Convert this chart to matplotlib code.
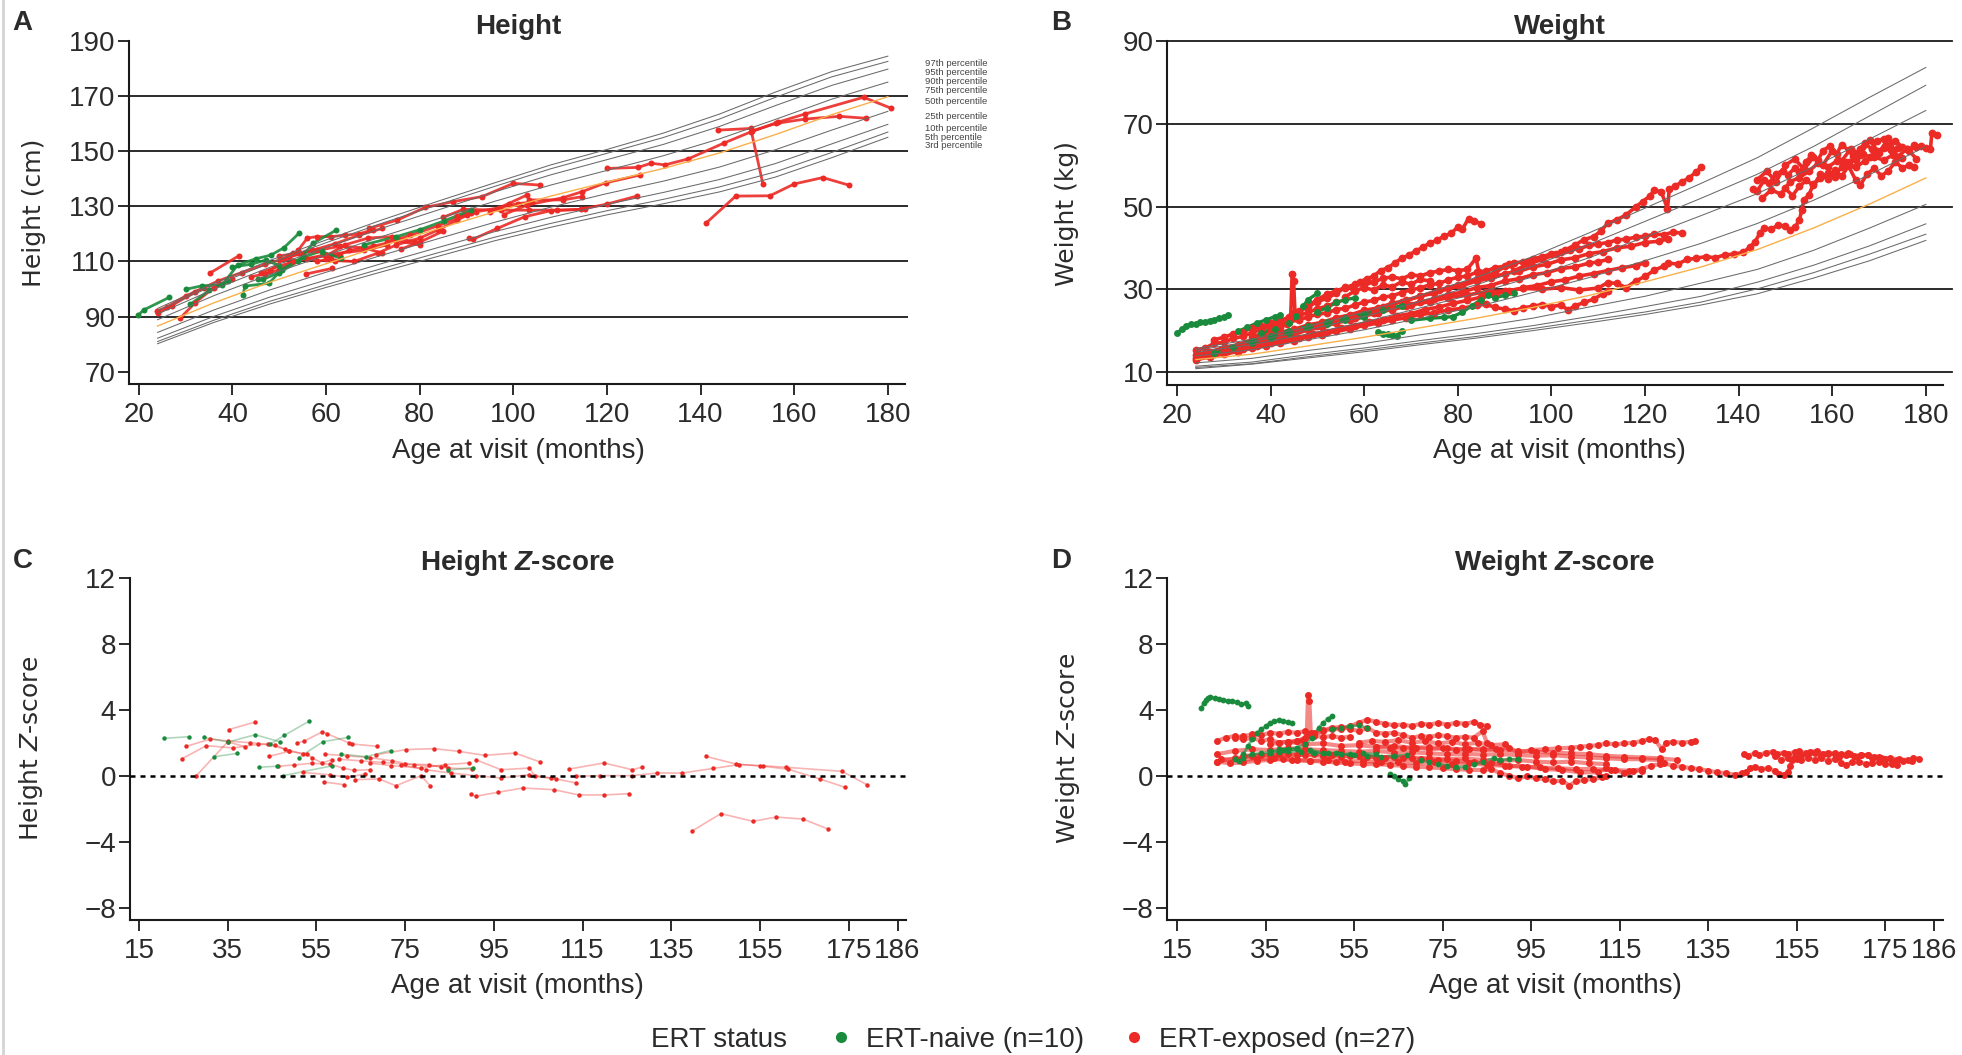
import numpy as np
import matplotlib
matplotlib.use('Agg')
import matplotlib.pyplot as plt
from matplotlib.lines import Line2D
from matplotlib import transforms

plt.rcParams['font.family'] = ['Liberation Sans', 'DejaVu Sans']
plt.rcParams['mathtext.fontset'] = 'custom'
plt.rcParams['mathtext.rm'] = 'Liberation Sans'
plt.rcParams['mathtext.it'] = 'Liberation Sans:italic'
plt.rcParams['mathtext.bf'] = 'Liberation Sans:bold'
HAS_BFIT = 'mathtext.bfit' in plt.rcParams
if HAS_BFIT:
    plt.rcParams['mathtext.bfit'] = 'Liberation Sans:italic:bold'

RED = '#EC2A26'
GREEN = '#1A8B3C'
ORANGE = '#F9B04A'
TXT = '#2b2b2b'

# reference percentile curves (boys), ages in months
pct_ages = [24, 36, 48, 60, 72, 84, 96, 108, 120, 132, 144, 156, 168, 180]
pct_names = ['97th', '95th', '90th', '75th', '50th', '25th', '10th', '5th', '3rd']

height_p97 = [93.0, 102.1, 110.4, 117.8, 125.1, 131.9, 138.5, 145.0, 150.6, 156.5, 163.4, 171.4, 178.8, 184.4]
height_p95 = [92.2, 101.3, 109.4, 116.8, 123.9, 130.6, 137.2, 143.6, 149.2, 154.9, 161.6, 169.5, 176.9, 182.5]
height_p90 = [91.0, 99.9, 107.9, 115.1, 122.1, 128.7, 135.2, 141.4, 146.9, 152.4, 158.9, 166.5, 173.8, 179.7]
height_p75 = [88.9, 97.6, 105.3, 112.3, 119.1, 125.5, 131.8, 137.7, 143.0, 148.3, 154.4, 161.5, 168.8, 175.0]
height_p50 = [86.6, 95.0, 102.5, 109.2, 115.7, 121.9, 128.0, 133.7, 138.8, 143.7, 149.3, 156.0, 163.2, 169.7]
height_p25 = [84.3, 92.4, 99.7, 106.1, 112.3, 118.3, 124.2, 129.7, 134.6, 139.1, 144.2, 150.5, 157.6, 164.4]
height_p10 = [82.2, 90.1, 97.1, 103.3, 109.3, 115.1, 120.8, 126.0, 130.7, 135.0, 139.7, 145.5, 152.6, 159.7]
height_p5 = [81.0, 88.7, 95.6, 101.6, 107.5, 113.2, 118.8, 123.8, 128.4, 132.5, 137.0, 142.5, 149.5, 156.9]
height_p3 = [80.2, 87.9, 94.6, 100.6, 106.3, 111.9, 117.5, 122.4, 126.9, 130.9, 135.2, 140.6, 147.6, 155.0]

weight_p97 = [15.7, 17.9, 21.0, 24.5, 28.6, 32.9, 37.9, 43.6, 49.6, 55.6, 61.8, 69.0, 76.4, 83.6]
weight_p95 = [15.3, 17.3, 20.2, 23.4, 27.1, 31.1, 35.6, 40.8, 46.4, 52.0, 57.8, 64.5, 71.9, 79.3]
weight_p90 = [14.8, 16.6, 19.2, 22.1, 25.5, 29.0, 33.0, 37.6, 42.6, 47.8, 53.1, 59.6, 66.3, 73.2]
weight_p75 = [13.9, 15.4, 17.8, 20.2, 23.0, 25.8, 29.2, 32.8, 36.9, 41.1, 45.9, 51.5, 57.7, 64.5]
weight_p50 = [13.0, 14.3, 16.3, 18.4, 20.7, 23.0, 25.6, 28.5, 31.8, 35.4, 39.6, 44.8, 50.6, 56.9]
weight_p25 = [12.2, 13.3, 15.2, 16.9, 19.0, 20.9, 23.0, 25.7, 28.3, 31.5, 34.8, 39.4, 44.8, 50.5]
weight_p10 = [11.4, 12.4, 14.2, 15.8, 17.6, 19.3, 21.2, 23.4, 25.8, 28.3, 31.7, 35.8, 40.5, 45.8]
weight_p5 = [11.1, 12.0, 13.7, 15.3, 17.0, 18.6, 20.5, 22.5, 24.5, 26.9, 30.1, 34.0, 38.5, 43.3]
weight_p3 = [10.8, 11.9, 13.4, 14.9, 16.6, 18.2, 20.0, 21.9, 23.9, 26.2, 28.9, 32.7, 36.9, 41.8]

# percentile label heights (cm) beside the height chart
pct_label_y = [181.9, 178.4, 175.1, 171.9, 167.8, 162.7, 158.1, 155.1, 152.0]

# height (cm) by patient: (age in months, value)
height_naive = [
    [(19.9, 90.6), (21.0, 92.4), (26.5, 97.0)],
    [(30.0, 99.9), (33.5, 101.2), (37.8, 101.5), (41.1, 108.7), (45.0, 111.0), (48.2, 112.3), (51.0, 115.0), (54.2, 120.2)],
    [(42.2, 97.9), (42.7, 101.1), (47.8, 102.1), (50.5, 107.0), (55.0, 111.5), (59.2, 113.9)],
    [(45.5, 103.5), (46.5, 103.5), (50.0, 106.0), (54.0, 110.0), (57.2, 116.6), (62.2, 121.4)],
    [(40.0, 108.0), (44.0, 109.0), (47.1, 110.5), (50.0, 108.5)],
    [(59.2, 113.5), (63.2, 111.1)],
    [(68.0, 116.0), (75.0, 119.0), (80.0, 121.5), (85.2, 124.7), (90.9, 128.6)],
    [(31.0, 94.5), (35.0, 99.5), (39.0, 103.0)],
]
height_exposed = [
    [(24.1, 91.2), (27.0, 94.0), (32.0, 99.0), (37.0, 103.0), (42.0, 106.0), (47.0, 109.0), (52.0, 111.5), (57.0, 114.0), (62.0, 116.5), (67.0, 119.5), (72.0, 122.0)],
    [(23.8, 92.0), (26.0, 93.5), (30.0, 97.5), (34.0, 100.5)],
    [(28.8, 89.4), (32.0, 95.0), (36.0, 100.5), (40.0, 103.5)],
    [(35.2, 105.8), (41.3, 112.0)],
    [(44.0, 104.5), (47.0, 105.5), (50.0, 107.0), (53.0, 110.0), (56.0, 111.0), (60.0, 112.0), (63.0, 112.5)],
    [(55.8, 105.5), (61.3, 107.5)],
    [(54.0, 114.0), (56.0, 118.5), (58.0, 119.0), (61.0, 119.0), (64.0, 119.5), (67.0, 120.0), (70.0, 121.5)],
    [(48.0, 106.5), (51.0, 111.0), (53.0, 113.0), (55.0, 112.0), (58.0, 110.0), (61.0, 111.0)],
    [(60.0, 112.0), (64.0, 116.0), (69.0, 118.5), (74.0, 119.0), (79.0, 117.0)],
    [(50.0, 112.0), (54.0, 113.0), (58.0, 114.0), (63.0, 115.5), (68.0, 115.0), (72.0, 113.0)],
    [(62.0, 110.3), (66.0, 110.0), (71.0, 113.0), (75.0, 116.0), (80.0, 118.5), (84.0, 121.5), (88.0, 125.0), (91.0, 127.5)],
    [(69.2, 122.0), (75.2, 125.0), (81.2, 129.6), (87.2, 131.7), (93.3, 133.5), (100.0, 138.3), (105.6, 137.7)],
    [(90.6, 118.4), (91.3, 118.0), (96.6, 122.0), (102.4, 126.2), (108.0, 128.4), (114.4, 128.9), (120.0, 130.8), (126.4, 133.7)],
    [(85.0, 126.0), (89.3, 128.9), (97.3, 128.6), (103.3, 128.6), (109.3, 128.6), (115.3, 128.9)],
    [(95.0, 128.0), (99.0, 131.0), (102.9, 134.1), (103.3, 132.3), (110.6, 132.3), (114.7, 133.5)],
    [(98.0, 127.0), (103.0, 130.5), (110.6, 133.1), (114.7, 135.3), (119.7, 138.5), (127.0, 141.3)],
    [(120.0, 143.7), (126.7, 144.1), (129.4, 145.6), (132.4, 145.0), (137.4, 147.2), (145.1, 153.0), (150.8, 157.0), (156.6, 160.5), (162.2, 163.4), (174.8, 169.5), (180.6, 165.6)],
    [(143.8, 157.6), (150.7, 158.2), (153.3, 138.1)],
    [(151.0, 157.3), (156.0, 160.0), (162.3, 161.6), (169.6, 162.6), (175.3, 161.9)],
    [(141.1, 123.8), (147.5, 133.7), (154.8, 133.8), (160.0, 138.1), (166.1, 140.4), (171.8, 137.6)],
    [(73.0, 117.0), (78.0, 119.5), (84.0, 123.0), (90.0, 127.0)],
    [(76.0, 114.5), (80.0, 117.0), (85.0, 121.0)],
    [(88.0, 126.5), (92.0, 128.0), (97.0, 129.5), (101.0, 131.0), (104.0, 131.5)],
    [(60.0, 111.0), (65.0, 114.0), (70.0, 115.5), (75.0, 117.5), (80.0, 116.0)],
    [(46.0, 106.0), (53.0, 110.0), (60.0, 112.5), (68.0, 114.0), (73.0, 116.0)],
]

# weight (kg) by patient
weight_naive = [
    [(20.0, 19.4), (21.0, 20.3), (22.0, 21.2), (23.0, 21.5), (24.0, 21.7), (25.0, 22.0), (26.0, 22.1), (27.0, 22.4), (28.0, 22.6), (29.0, 23.0), (30.0, 23.2), (31.0, 23.7)],
    [(33.0, 19.8), (35.0, 20.8), (37.0, 21.8), (39.0, 22.6), (41.0, 23.4), (42.0, 23.8)],
    [(38.0, 19.5), (41.0, 20.5), (44.0, 21.8), (45.5, 23.5), (47.0, 26.0), (48.0, 27.5), (50.0, 29.0)],
    [(63.0, 19.6), (64.0, 19.3), (65.0, 19.2), (66.0, 19.0), (67.0, 18.8), (68.0, 19.9)],
    [(70.0, 22.5), (74.0, 23.0), (77.0, 23.2), (79.0, 23.4), (81.0, 24.5), (83.0, 26.0), (85.0, 27.5), (86.5, 28.6), (88.0, 28.0), (90.0, 28.5), (92.0, 29.0)],
    [(28.0, 14.5), (32.0, 16.0), (36.0, 17.5), (40.0, 18.8), (44.0, 20.0), (48.0, 21.0), (52.0, 22.0), (56.0, 23.0), (60.0, 24.0), (64.0, 25.0), (68.0, 26.0)],
    [(36.0, 17.0), (40.0, 18.2), (44.0, 19.5), (48.0, 20.8), (52.0, 21.5), (56.0, 22.5), (60.0, 23.2)],
    [(50.0, 24.6), (52.0, 25.5), (54.0, 26.8), (56.0, 27.5), (58.0, 27.9)],
]
weight_exposed = [
    [(40, 21.5), (42, 22.3), (44, 23.0), (46, 24.5), (48, 25.8), (50, 27.0), (52, 27.8), (54, 29.0), (56, 30.5), (57.5, 30.2), (59, 31.8), (60.5, 32.5), (62, 33.2), (63.5, 34.5), (65, 35.2), (66.5, 36.3), (68, 37.5), (69.5, 38.2), (71, 39.3), (72.5, 40.1), (74, 41.2), (75.5, 41.8), (77, 42.8), (78.5, 43.5), (80, 45.0), (81, 44.6), (82.3, 47.1), (83.5, 46.5), (85, 45.8)],
    [(46, 24.8), (48, 26.0), (50, 27.5), (52, 28.8), (54, 29.6), (56, 30.4), (58, 31.2), (60, 31.0), (62, 31.8), (64, 32.6), (66, 33.0), (68, 32.5), (70, 33.5), (72, 33.2), (74, 34.0), (76, 34.4), (78, 34.8), (80, 34.5), (82, 34.8), (83.9, 37.5), (84.5, 34.2), (86, 33.5)],
    [(60, 24.5), (64, 25.6), (68, 27.0), (72, 28.3), (76, 29.8), (80, 31.0), (84, 32.4), (88, 34.0), (91, 36.2), (92, 34.5), (95, 36.0), (98, 37.2), (101, 38.5), (103, 39.5), (105, 40.7), (107, 42.0), (109, 42.7), (110.5, 44.0), (112, 45.9), (114, 46.8), (116, 48.0), (118, 49.9), (119.5, 51.2), (121, 52.5), (122, 54.0), (123.5, 53.5), (124.8, 49.5), (125.2, 54.2), (126.5, 55.0), (128, 56.0), (129.5, 57.0), (131, 58.4), (132, 59.5)],
    [(24, 15.2), (26, 15.8), (28, 16.9), (30, 17.2), (32, 18.1), (34, 18.6), (36, 19.5), (38, 20.3), (40, 21.0), (42, 21.4), (44, 22.2), (46, 22.5), (48, 23.4), (50, 23.9), (52, 24.3), (54, 25.1), (56, 25.4), (58, 26.2), (60, 26.9), (62, 27.3), (64, 28.1), (66, 28.4), (68, 29.2), (70, 29.9), (72, 30.3), (74, 31.1), (76, 31.4), (78, 32.3), (80, 32.9), (82, 33.2), (84, 34.1), (86, 34.4), (88, 35.2), (90, 35.6), (92, 36.3), (94, 36.7), (96, 37.4), (98, 37.8), (100, 38.6), (102, 38.9), (104, 39.5), (106, 39.8), (108, 40.6), (110, 40.9), (112, 41.3), (114, 41.9), (116, 42.1), (118, 42.6), (120, 42.8), (122, 43.3), (124, 43.2), (126, 43.8), (128, 43.5)],
    [(24, 14.1), (27, 14.9), (30, 15.9), (33, 16.6), (36, 17.8), (39, 18.4), (42, 19.6), (45, 20.3), (48, 21.4), (51, 22.0), (54, 23.1), (57, 23.8), (60, 24.9), (63, 25.5), (66, 26.6), (69, 27.3), (72, 28.4), (75, 29.0), (78, 30.2), (81, 30.9), (84, 32.0), (87, 32.6), (90, 33.8), (93, 34.3), (96, 35.4), (99, 36.0), (102, 37.1), (105, 37.6), (108, 38.6), (111, 39.1), (114, 40.0), (117, 40.4), (120, 41.3), (123, 41.6), (125, 42.2)],
    [(24, 13.4), (27, 14.2), (30, 15.1), (33, 15.8), (36, 16.8), (39, 17.4), (42, 18.5), (45, 19.1), (48, 20.2), (51, 20.8), (54, 21.9), (57, 22.5), (60, 23.6), (63, 24.2), (66, 25.3), (69, 25.9), (72, 27.0), (75, 27.6), (78, 28.7), (81, 29.3), (84, 30.4), (87, 30.9), (90, 32.0), (93, 32.5), (96, 33.5), (99, 34.0), (102, 35.0), (105, 35.4), (108, 36.3), (110, 36.6), (112, 37.2)],
    [(25, 13.9), (28, 14.3), (31, 15.0), (34, 15.5), (37, 16.3), (40, 16.9), (43, 17.8), (46, 18.3), (49, 19.2), (52, 19.7), (55, 20.6), (58, 21.2), (61, 22.1), (64, 22.6), (67, 23.6), (70, 24.1), (73, 25.1), (76, 25.7), (79, 26.6), (82, 27.3), (85, 28.1), (88, 28.9), (91, 29.5), (94, 30.4), (97, 30.9), (100, 31.8), (103, 32.3), (106, 33.2), (109, 33.8), (112, 34.5), (115, 35.2), (118, 35.7), (120, 36.4)],
    [(24, 13.0), (27, 13.6), (30, 14.4), (33, 14.9), (36, 15.8), (39, 16.3), (42, 17.1), (45, 17.6), (48, 18.5), (51, 19.0), (54, 19.9), (57, 20.4), (60, 21.3), (63, 21.8), (66, 22.6), (69, 23.1), (72, 23.9), (75, 24.3), (78, 25.0), (81, 25.4), (84, 26.1), (86, 26.4), (88, 25.6), (90, 25.2), (92, 24.8), (94, 25.5), (96, 25.9), (98, 26.3), (100, 25.8), (102, 26.2), (103.6, 25.0), (105, 26.0), (107, 26.8), (109, 27.6), (111, 28.9), (112, 29.6)],
    [(30, 15.6), (34, 16.6), (38, 17.9), (42, 18.8), (46, 20.1), (50, 21.0), (54, 22.2), (58, 23.1), (62, 24.3), (66, 25.1), (70, 26.2), (74, 27.0), (78, 28.0), (82, 28.6), (86, 29.4), (90, 29.6), (94, 30.2), (98, 30.0), (102, 30.4), (106, 29.8), (110, 30.3), (112, 31.6), (114, 31.4), (116, 30.4), (118, 32.0), (120, 33.1), (122, 34.6), (124, 35.6), (125, 36.3), (127, 36.1), (129, 37.2), (131, 37.5), (133, 37.9), (135, 37.6), (137, 38.3), (139, 38.5), (141, 38.9), (142.5, 40.3), (143.5, 41.4), (144.5, 43.5), (145.5, 44.8), (147, 44.5), (148.5, 45.6), (150, 45.2), (151, 44.3), (152, 45.0), (153, 46.7), (153.5, 49.2), (154, 51.6), (155, 52.8), (156, 55.4), (157.5, 56.8), (159, 58.1), (160.5, 57.2), (162, 59.6), (163.5, 60.7), (165, 61.3), (166.5, 62.6), (168, 62.0), (169.5, 63.4), (171, 64.1), (172.5, 63.6), (174, 64.2), (176, 64.0), (178, 64.3), (180, 64.2), (181, 64.0), (181.3, 67.8), (182.5, 67.2)],
    [(143, 54.3), (144, 53.8), (145.5, 56.4), (146.5, 55.6), (148, 57.9), (149.5, 58.7), (150.5, 57.6), (152, 59.3), (153, 58.4), (154.5, 60.8), (155.5, 62.4), (157, 61.2), (158, 63.5), (159.5, 64.6), (161, 62.8), (162, 64.9), (163.5, 63.6), (164.5, 62.2), (166, 64.0), (167, 65.3), (168.5, 63.8), (169.5, 65.8), (171, 66.4), (172, 64.7), (173.5, 65.9), (175, 64.3), (176.5, 63.5), (177.5, 64.8), (179, 64.6)],
    [(150, 54.4), (151.5, 52.6), (153, 54.9), (154.5, 56.3), (156, 55.1), (157.5, 57.8), (159, 56.6), (160.5, 58.9), (162, 57.3), (163.5, 59.8), (165, 56.4), (166, 55.2), (167.5, 57.9), (169, 59.2), (170.5, 57.4), (172, 58.6), (173.5, 60.8), (175, 59.3), (176.5, 60.1), (177.5, 59.5)],
    [(144, 56.5), (146, 58.5), (148, 56.0), (150, 60.0), (152, 61.5), (154, 59.0), (156, 62.0), (158, 60.0), (160, 63.5), (162, 61.0), (164, 64.0), (166, 62.5), (168, 66.0), (170, 63.0), (172, 66.5), (174, 62.0), (176, 64.0), (178, 61.5)],
    [(145, 52.0), (147, 54.0), (149, 53.0), (151, 56.0), (153, 57.0), (155, 58.5), (157, 60.5), (159, 59.5), (161, 61.0), (163, 60.8), (165, 59.5), (167, 61.0), (169, 62.0), (171, 61.2), (173, 62.5), (175, 61.8)],
    [(36, 18.5), (38, 19.2), (40, 19.9), (42, 20.8), (43.5, 21.6), (44.3, 23.5), (44.6, 33.8), (44.9, 32.0), (45.2, 24.5), (46, 23.6), (48, 24.4), (50, 25.3), (52, 25.9), (54, 26.8)],
    [(28, 17.8), (30, 18.4), (32, 19.2), (34, 19.7), (36, 20.6), (38, 21.0), (40, 21.9), (42, 22.4), (44, 23.3)],
    [(56, 28.2), (58, 29.6), (60, 30.4), (62, 29.8), (64, 31.0), (66, 30.6), (68, 31.8), (70, 31.2), (72, 32.4), (74, 32.0)],
]

# height Z-score by patient
hz_naive = [
    [(20.6, 2.26), (26.2, 2.36)],
    [(29.7, 2.32), (35.1, 2.04), (41.2, 2.48), (46.7, 2.06)],
    [(31.9, 1.15), (37.2, 1.35)],
    [(44.5, 1.9), (47.8, 2.45), (53.4, 3.31)],
    [(42.0, 0.51), (46.0, 0.57)],
    [(47.5, 0.0), (58.4, 0.59)],
    [(51.0, 1.1), (56.5, 2.06), (62.2, 2.32)],
    [(60.5, 1.31), (66.1, 1.15), (71.7, 1.52)],
    [(84.7, 0.34), (90.4, 0.49)],
]
hz_exposed = [
    [(35.2, 2.79), (41.2, 3.25)],
    [(24.6, 1.01), (30.2, 1.82), (36.2, 1.68), (41.8, 1.9), (45.7, 1.88), (48.8, 1.47)],
    [(27.8, -0.04), (35.0, 2.05), (39.0, 1.75)],
    [(25.7, 1.78), (31.1, 2.22), (35.0, 2.1), (40.0, 2.0), (44.0, 1.9), (48.0, 1.6), (52.0, 1.3)],
    [(50.7, 1.98), (52.1, 2.08), (56.3, 2.65), (57.3, 2.55), (62.4, 1.98), (63.0, 1.92), (68.6, 1.78)],
    [(44.3, 1.17), (48.8, 1.47), (52.8, 1.33), (54.0, 1.07), (56.3, 0.77), (58.5, 0.97)],
    [(46.4, 0.57), (50.0, 0.65), (54.0, 0.75), (58.0, 0.7), (61.0, 0.46), (63.4, 0.32), (67.0, 0.36)],
    [(68.4, 1.27), (75.2, 1.58), (81.5, 1.64), (87.2, 1.47), (92.9, 1.23), (99.8, 1.37), (105.4, 0.83)],
    [(56.6, -0.38), (61.3, -0.55)],
    [(63.8, -0.24), (69.1, -0.2), (72.9, -0.61), (78.6, 0.0), (80.6, -0.61)],
    [(67.0, 0.77), (71.8, 0.61), (78.5, 0.46), (83.9, 0.67), (89.5, 0.77)],
    [(74.0, 0.67), (79.6, 0.36), (85.3, 0.16), (90.9, 0.0), (96.6, -0.14), (103.0, 0.06), (107.9, -0.14), (113.5, -0.44)],
    [(89.8, -1.11), (90.9, -1.25), (95.9, -1.01), (101.5, -0.75), (108.5, -0.85), (114.2, -1.17), (119.8, -1.17), (125.5, -1.09)],
    [(112.0, 0.4), (119.8, 0.77), (126.2, 0.36), (128.3, 0.51)],
    [(113.5, -0.04), (118.9, 0.0), (126.2, 0.0), (131.8, 0.16), (137.5, 0.16), (144.5, 0.44), (150.2, 0.67), (155.1, 0.61), (160.8, 0.51), (173.5, 0.26), (179.1, -0.55)],
    [(142.8, 1.17), (149.5, 0.71), (155.6, 0.57), (161.2, 0.4), (168.5, -0.2), (174.2, -0.71)],
    [(139.6, -3.37), (146.2, -2.3), (153.4, -2.77), (158.6, -2.51), (164.7, -2.63), (170.3, -3.23)],
    [(90.9, 0.97), (96.6, 0.36), (103.0, 0.46), (104.3, -0.04), (109.0, -0.2)],
    [(60.0, 1.0), (65.0, 0.9), (70.0, 0.8), (75.0, 0.7), (80.3, 0.67), (84.6, 0.46), (90.0, 0.4)],
    [(52.0, 0.2), (58.0, 0.05), (62.0, -0.1), (66.0, 0.1)],
    [(57.0, 1.3), (62.0, 1.2), (67.0, 1.1), (72.0, 0.9), (77.0, 0.65), (83.0, 0.55)],
]

# weight Z-score by patient
wz_naive = [
    [(20.5, 4.1), (21, 4.4), (21.5, 4.6), (22, 4.7), (22.5, 4.75), (23.5, 4.7), (24.5, 4.65), (25.5, 4.6), (26.5, 4.55), (27.5, 4.5), (28.5, 4.45), (29.5, 4.35), (30.5, 4.4), (31, 4.25)],
    [(29, 0.9), (30, 1.3), (31, 1.8), (32, 2.2), (33, 2.6), (34, 2.8), (35, 3.0), (36, 3.2), (37, 3.3), (38, 3.35), (39, 3.3), (40, 3.25), (41, 3.2)],
    [(38, 1.6), (40, 1.6), (42, 1.7), (44, 1.9), (45.5, 2.3), (47, 2.9), (48, 3.2), (49, 3.45), (50, 3.6)],
    [(63, 0.1), (64, 0.0), (65, -0.2), (66, -0.35), (66.5, -0.5), (67.5, -0.15)],
    [(70, 0.95), (72, 0.85), (74, 0.7), (76, 0.6), (78, 0.5), (80, 0.55), (82, 0.7), (84, 0.85), (86.5, 1.05), (88, 0.95), (90, 1.0), (92, 1.0)],
    [(28, 1.0), (30, 1.1), (32, 1.3), (34, 1.35), (36, 1.4), (38, 1.45), (40, 1.5), (43, 1.45), (46, 1.4), (49, 1.35), (52, 1.3), (55, 1.25), (58, 1.2), (61, 1.15), (64, 1.2), (67, 1.25)],
    [(36, 1.5), (39, 1.55), (42, 1.6), (45, 1.55), (48, 1.4), (51, 1.35), (54, 1.3), (57, 1.35), (60, 1.3)],
    [(50, 2.8), (52, 2.9), (54, 3.0), (56, 3.05), (58, 2.9)],
]
wz_exposed = [
    [(40, 2.0), (42, 2.1), (44, 2.3), (46, 2.5), (48, 2.7), (50, 2.85), (52, 2.8), (54, 3.0), (56, 3.2), (58, 3.4), (60, 3.25), (62, 3.15), (64, 3.05), (66, 3.1), (68, 3.0), (70, 3.15), (72, 3.1), (74, 3.2), (76, 3.1), (78, 3.2), (80, 3.15), (82, 3.25), (83.5, 3.1), (85, 3.0)],
    [(46, 2.6), (48, 2.75), (50, 2.9), (52, 2.95), (54, 2.85), (56, 2.7), (58, 2.9), (60, 2.6), (62, 2.55), (64, 2.6), (66, 2.45), (68, 2.3), (70, 2.4), (72, 2.35), (74, 2.45), (76, 2.4), (78, 2.3), (80, 2.35), (82, 2.3), (84, 2.7), (85, 2.0)],
    [(60, 1.75), (63, 1.7), (66, 1.65), (69, 1.7), (72, 1.6), (75, 1.65), (78, 1.55), (81, 1.6), (84, 1.55), (87, 1.6), (90, 1.7), (92, 1.4), (95, 1.55), (98, 1.6), (101, 1.65), (104, 1.7), (106, 1.75), (108, 1.8), (110, 1.85), (112, 1.95), (114, 1.9), (116, 1.95), (118, 2.0), (120, 2.1), (121.5, 2.2), (123, 2.15), (124.5, 1.6), (125.5, 2.0), (127, 2.05), (129, 2.0), (131, 2.05), (132, 2.1)],
    [(24, 2.1), (26, 2.3), (28, 2.4), (30, 2.2), (32, 2.3), (34, 2.1), (36, 2.2), (38, 2.0), (40, 2.05), (44, 1.9), (48, 1.95), (52, 1.8), (56, 1.85), (60, 1.75), (64, 1.8), (68, 1.7), (72, 1.72), (76, 1.65), (80, 1.6), (84, 1.62), (88, 1.55), (92, 1.5), (96, 1.45), (100, 1.4), (104, 1.35), (108, 1.3), (112, 1.2), (116, 1.15), (120, 1.1), (124, 1.05), (128, 0.95)],
    [(24, 1.3), (28, 1.5), (32, 1.6), (36, 1.55), (40, 1.65), (44, 1.6), (48, 1.55), (52, 1.5), (56, 1.45), (60, 1.5), (64, 1.4), (68, 1.42), (72, 1.35), (76, 1.3), (80, 1.32), (84, 1.28), (88, 1.3), (92, 1.25), (96, 1.2), (100, 1.25), (104, 1.15), (108, 1.1), (112, 1.05), (116, 1.0), (120, 1.0), (124, 0.95)],
    [(24, 0.85), (28, 1.05), (32, 1.2), (36, 1.25), (40, 1.3), (44, 1.25), (48, 1.2), (52, 1.15), (56, 1.2), (60, 1.1), (64, 1.15), (68, 1.1), (72, 1.05), (76, 1.0), (80, 1.05), (84, 0.95), (88, 0.9), (92, 0.95), (96, 0.85), (100, 0.8), (104, 0.85), (108, 0.75), (112, 0.7)],
    [(25, 1.0), (29, 0.95), (33, 1.0), (37, 1.05), (41, 0.95), (45, 0.9), (49, 0.95), (53, 0.85), (57, 0.9), (61, 0.8), (65, 0.85), (69, 0.75), (73, 0.8), (77, 0.7), (81, 0.75), (85, 0.65), (89, 0.6), (93, 0.55), (97, 0.5), (101, 0.45), (105, 0.4), (109, 0.4), (113, 0.35), (117, 0.3), (120, 0.3)],
    [(24, 0.85), (27, 0.75), (30, 0.8), (33, 0.9), (36, 0.95), (39, 1.0), (42, 0.95), (45, 0.9), (48, 0.85), (51, 0.8), (54, 0.75), (57, 0.7), (60, 0.7), (63, 0.65), (66, 0.6), (69, 0.55), (72, 0.5), (75, 0.45), (78, 0.4), (81, 0.35), (84, 0.35), (86, 0.4), (88, 0.15), (90, 0.0), (92, -0.15), (94, -0.05), (96, -0.15), (98, -0.2), (100, -0.35), (102, -0.3), (103.6, -0.6), (105, -0.35), (107, -0.25), (109, -0.2), (111, -0.1), (112, -0.05)],
    [(30, 1.2), (34, 1.25), (38, 1.3), (42, 1.25), (46, 1.3), (50, 1.25), (54, 1.2), (58, 1.15), (62, 1.1), (66, 1.05), (70, 1.0), (74, 0.95), (78, 0.9), (82, 0.8), (86, 0.75), (90, 0.6), (94, 0.55), (98, 0.4), (102, 0.35), (106, 0.2), (110, 0.2), (112, 0.45), (114, 0.35), (116, 0.15), (118, 0.3), (120, 0.4), (122, 0.6), (124, 0.7), (125, 0.75), (127, 0.6), (129, 0.55), (131, 0.45), (133, 0.4), (135, 0.3), (137, 0.2), (139, 0.15), (141, 0.05), (142.5, 0.15), (143.5, 0.2), (144.5, 0.45), (145.5, 0.55), (147, 0.4), (148.5, 0.45), (150, 0.3), (151, 0.1), (152, 0.05), (153, 0.2), (153.5, 0.6), (154, 0.95), (155, 1.0), (156, 1.25), (157.5, 1.3), (159, 1.35), (160.5, 1.2), (162, 1.3), (163.5, 1.35), (165, 1.3), (166.5, 1.35), (168, 1.2), (169.5, 1.25), (171, 1.25), (172.5, 1.15), (174, 1.1), (176, 1.05), (178, 1.0), (180, 0.95), (181, 0.9), (181.3, 1.1), (182.5, 1.0)],
    [(143, 1.3), (144, 1.2), (145.5, 1.35), (146.5, 1.25), (148, 1.4), (149.5, 1.45), (150.5, 1.3), (152, 1.4), (153, 1.3), (154.5, 1.45), (155.5, 1.5), (157, 1.35), (158, 1.45), (159.5, 1.5), (161, 1.3), (162, 1.4), (163.5, 1.3), (164.5, 1.15), (166, 1.25), (167, 1.3), (168.5, 1.15), (169.5, 1.25), (171, 1.25), (172, 1.1), (173.5, 1.15), (175, 1.0), (176.5, 0.9), (177.5, 0.95), (179, 0.9)],
    [(150, 1.2), (151.5, 0.95), (153, 1.1), (154.5, 1.15), (156, 0.95), (157.5, 1.1), (159, 0.95), (160.5, 1.05), (162, 0.9), (163.5, 1.0), (165, 0.75), (166, 0.65), (167.5, 0.8), (169, 0.85), (170.5, 0.7), (172, 0.75), (173.5, 0.85), (175, 0.7), (176.5, 0.7), (177.5, 0.65)],
    [(36, 1.9), (38, 2.0), (40, 2.05), (42, 2.1), (43.5, 2.15), (44.3, 2.4), (44.6, 4.9), (44.9, 4.5), (45.2, 2.6), (46, 2.4), (48, 2.35), (50, 2.4), (52, 2.3), (54, 2.35)],
    [(28, 2.3), (30, 2.4), (32, 2.5), (34, 2.45), (36, 2.6), (38, 2.55), (40, 2.65), (42, 2.6), (44, 2.7)],
    [(56, 2.0), (59, 2.1), (62, 2.05), (65, 2.15), (68, 2.0), (71, 2.1), (74, 1.95), (77, 2.05), (80, 1.9), (83, 2.0), (86, 1.85), (89, 1.9)],
]

height_pcts = [height_p97, height_p95, height_p90, height_p75, height_p50,
               height_p25, height_p10, height_p5, height_p3]
weight_pcts = [weight_p97, weight_p95, weight_p90, weight_p75, weight_p50,
               weight_p25, weight_p10, weight_p5, weight_p3]

W, H = 1962, 1055


def fig_rect(left, top, right, bottom):
    return [left / W, 1 - bottom / H, (right - left) / W, (bottom - top) / H]


def style_axes(ax):
    for s in ['top', 'right']:
        ax.spines[s].set_visible(False)
    for s in ['left', 'bottom']:
        ax.spines[s].set_linewidth(1.5)
        ax.spines[s].set_color('#1a1a1a')
    ax.tick_params(direction='out', length=7.7, width=1.3, color='#1a1a1a',
                   labelsize=20, labelcolor=TXT)
    ax.tick_params(axis='y', pad=2)
    ax.tick_params(axis='x', pad=5)
    ax.set_xlabel('Age at visit (months)', fontsize=20, color=TXT, labelpad=7)


def draw_tracks(ax, tracks, color, lw, ms, line_alpha):
    for tr in tracks:
        arr = np.array(tr, dtype=float)
        ax.plot(arr[:, 0], arr[:, 1], color=color, lw=lw, alpha=line_alpha,
                zorder=2, solid_capstyle='round')
        ax.plot(arr[:, 0], arr[:, 1], ls='', marker='o', ms=ms, color=color,
                mew=0, zorder=3)


def draw_percentiles(ax, curves):
    for name, vals in zip(pct_names, curves):
        if name == '50th':
            ax.plot(pct_ages, vals, color=ORANGE, lw=1.0, zorder=4)
        else:
            ax.plot(pct_ages, vals, color='#6a6a6a', lw=0.75, zorder=4)


def set_ylabel(ax, text, xpos):
    ax.set_ylabel(text, family='DejaVu Sans', fontsize=18, color=TXT,
                  math_fontfamily='dejavusans')
    ax.yaxis.set_label_coords(xpos, 0.5)


def title_z(word):
    if HAS_BFIT:
        return word + r' $\mathbfit{Z}$-score'
    return word + r' $\mathbf{Z}$-score'


fig = plt.figure(figsize=(W / 100, H / 100), dpi=100)
fig.patch.set_facecolor('white')

# A: height
axA = fig.add_axes(fig_rect(129, 40.7, 908, 384.3))
style_axes(axA)
axA.set_xlim(17.9, 184.3)
axA.set_ylim(65.5, 190)
axA.spines['bottom'].set_bounds(17.9, 183.7)
axA.set_xticks(range(20, 181, 20))
axA.set_yticks(range(70, 191, 20))
for yv in range(90, 171, 20):
    axA.axhline(yv, color='#1a1a1a', lw=1.3, zorder=1)
draw_tracks(axA, height_exposed, RED, 2.0, 4.3, 0.9)
draw_tracks(axA, height_naive, GREEN, 2.0, 4.3, 0.9)
draw_percentiles(axA, height_pcts)
set_ylabel(axA, 'Height (cm)', -0.106)
axA.set_title('Height', fontsize=20, fontweight='bold', color=TXT, pad=5)
trans = transforms.blended_transform_factory(axA.transAxes, axA.transData)
for name, yv in zip(pct_names, pct_label_y):
    axA.text(1.022, yv, name + ' percentile', transform=trans, fontsize=6.8,
             color='#444444', ha='left', va='center', clip_on=False)

# B: weight
axB = fig.add_axes(fig_rect(1167, 41, 1952, 385))
style_axes(axB)
axB.set_xlim(17.86, 185.6)
axB.set_ylim(6.86, 90)
axB.spines['bottom'].set_bounds(17.86, 183.7)
axB.spines['left'].set_bounds(6.86, 90)
axB.set_xticks(range(20, 181, 20))
axB.set_yticks(range(10, 91, 20))
for yv in range(10, 91, 20):
    axB.axhline(yv, color='#1a1a1a', lw=1.3, zorder=1, clip_on=False)
draw_tracks(axB, weight_exposed, RED, 2.6, 5.6, 1.0)
draw_tracks(axB, weight_naive, GREEN, 2.4, 5.0, 1.0)
draw_percentiles(axB, weight_pcts)
set_ylabel(axB, 'Weight (kg)', -0.112)
axB.set_title('Weight', fontsize=20, fontweight='bold', color=TXT, pad=5)

# C: height z-score
axC = fig.add_axes(fig_rect(129.5, 577.7, 905.5, 920))
style_axes(axC)
axC.set_xlim(12.86, 187.8)
axC.set_ylim(-8.75, 12)
axC.spines['left'].set_bounds(-8.75, 12)
axC.set_xticks([15, 35, 55, 75, 95, 115, 135, 155, 175, 186])
axC.set_yticks(range(-8, 13, 4))
axC.axhline(0, color='black', lw=1.8, ls=(0, (2, 2)), zorder=5)
draw_tracks(axC, hz_exposed, RED, 1.2, 3.2, 0.35)
draw_tracks(axC, hz_naive, GREEN, 1.2, 3.2, 0.35)
set_ylabel(axC, r'Height $\mathit{Z}$-score', -0.109)
axC.set_title(title_z('Height'), fontsize=20, fontweight='bold', color=TXT, pad=5)

# D: weight z-score
axD = fig.add_axes(fig_rect(1167, 577.7, 1943, 920))
style_axes(axD)
axD.set_xlim(12.74, 188.0)
axD.set_ylim(-8.75, 12)
axD.set_xticks([15, 35, 55, 75, 95, 115, 135, 155, 175, 186])
axD.set_yticks(range(-8, 13, 4))
axD.axhline(0, color='black', lw=1.8, ls=(0, (2, 2)), zorder=5)
draw_tracks(axD, wz_exposed, RED, 3.0, 5.0, 0.55)
draw_tracks(axD, wz_naive, GREEN, 2.0, 4.2, 0.6)
set_ylabel(axD, r'Weight $\mathit{Z}$-score', -0.110)
axD.set_title(title_z('Weight'), fontsize=20, fontweight='bold', color=TXT, pad=5)

# panel letters
for lab, (px, py) in zip('ABCD', [(22.5, 22.5), (1061, 22.5), (22.5, 560.6), (1061, 560.6)]):
    fig.text(px / W, 1 - py / H, lab, fontsize=20, fontweight='bold', color=TXT,
             ha='center', va='center')

# legend
fig.text(651 / W, 1 - 1040 / H, 'ERT status', fontsize=20, color=TXT,
         ha='left', va='center')
handles = [Line2D([], [], ls='', marker='o', ms=8, color=GREEN, mew=0),
           Line2D([], [], ls='', marker='o', ms=8, color=RED, mew=0)]
fig.legend(handles, ['ERT-naive (n=10)', 'ERT-exposed (n=27)'],
           loc='center left', bbox_to_anchor=(830 / W, 1 - 1040 / H), ncol=2,
           frameon=False, fontsize=20, handlelength=0.8, handletextpad=0.5,
           columnspacing=1.4, borderpad=0, borderaxespad=0, labelcolor=TXT)

# thin grey frame line down the left edge
fig.add_artist(Line2D([0.0015, 0.0015], [0, 1], transform=fig.transFigure,
                      color='#d4d4d4', lw=2))

fig.savefig('out.png', dpi=100, facecolor='white')
